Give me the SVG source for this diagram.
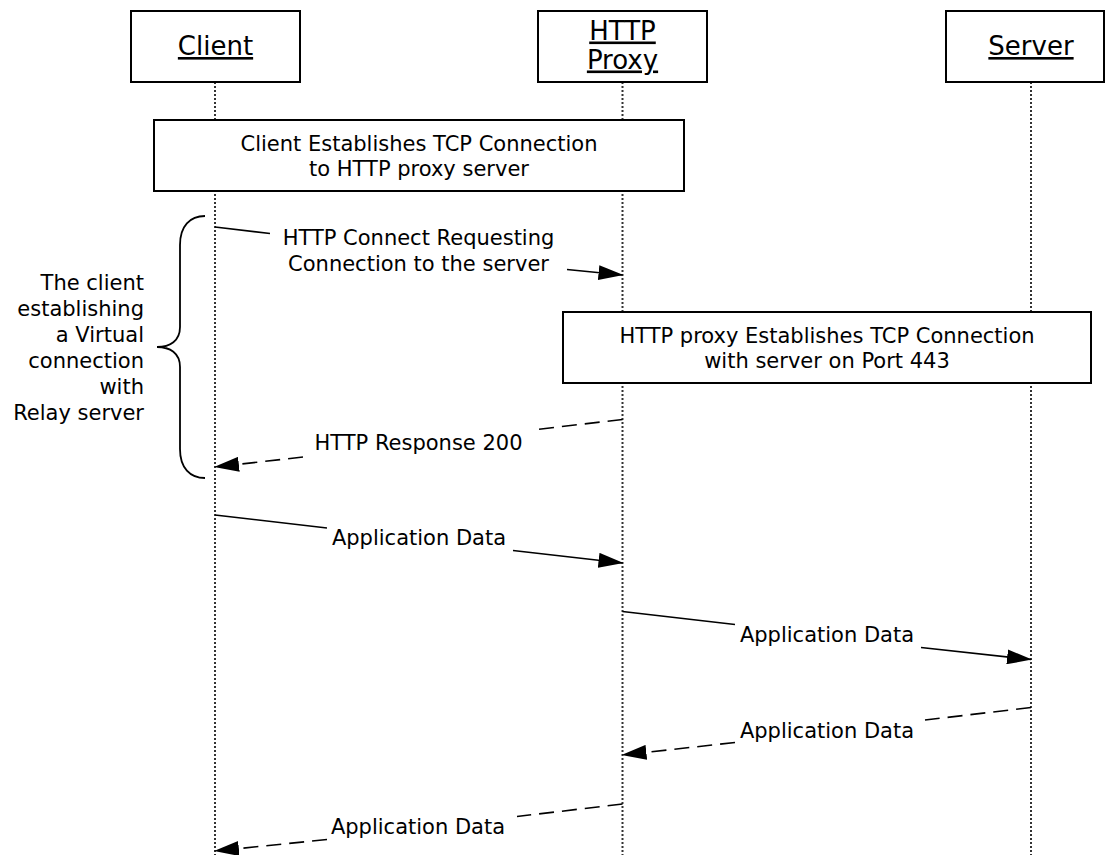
<svg xmlns="http://www.w3.org/2000/svg" width="1106" height="855" viewBox="0 0 1106 855">
  <style>
    .lifeline { stroke: #333; stroke-width: 2; stroke-dasharray: 2 2; fill: none; }
    .box { fill: #fff; stroke: #000; stroke-width: 2; }
    .head { font-family: 'DejaVu Sans', Verdana, sans-serif; font-size: 26px; fill: #000; text-anchor: middle; text-decoration: underline; }
    .txt { font-family: 'DejaVu Sans', Verdana, sans-serif; font-size: 21px; fill: #000; text-anchor: middle; }
    .txtr { font-family: 'DejaVu Sans', Verdana, sans-serif; font-size: 21px; fill: #000; text-anchor: end; }
    .msg { stroke: #000; stroke-width: 1.6; fill: none; marker-end: url(#arrow); }
    .dash { stroke-dasharray: 15 8; }
    .brace { stroke: #000; stroke-width: 1.8; fill: none; }
  </style>
  <defs>
    <marker id="arrow" markerUnits="userSpaceOnUse" markerWidth="25" markerHeight="15" viewBox="0 0 25 15" refX="24" refY="7.5" orient="auto">
      <path d="M0,0 L25,7.5 L0,15 z" fill="#000"/>
    </marker>
  </defs>
  <rect width="1106" height="855" fill="#fff"/>

  <g id="lifelines">
    <line class="lifeline" x1="215" y1="82" x2="215" y2="855"/>
    <line class="lifeline" x1="622.5" y1="82" x2="622.5" y2="855"/>
    <line class="lifeline" x1="1031" y1="82" x2="1031" y2="855"/>
  </g>

  <g id="client">
    <rect class="box" x="131" y="11" width="169" height="71"/>
    <text class="head" x="215.5" y="55">Client</text>
  </g>
  <g id="proxy">
    <rect class="box" x="538" y="11" width="169" height="71"/>
    <text class="head" x="622.5" y="39.5">HTTP</text>
    <text class="head" x="622.5" y="68.5">Proxy</text>
  </g>
  <g id="server">
    <rect class="box" x="946" y="11" width="158" height="71"/>
    <text class="head" x="1031" y="55">Server</text>
  </g>

  <g id="note-client-tcp">
    <rect class="box" x="154" y="120" width="530" height="71"/>
    <text class="txt" x="419" y="151">Client Establishes TCP Connection</text>
    <text class="txt" x="419" y="176">to HTTP proxy server</text>
  </g>

  <g id="note-proxy-tcp">
    <rect class="box" x="563" y="312" width="528" height="71"/>
    <text class="txt" x="827" y="343">HTTP proxy Establishes TCP Connection</text>
    <text class="txt" x="827" y="368">with server on Port 443</text>
  </g>

  <g id="virtual-connection">
    <path class="brace" d="M205,216 C190,216 180,226 180,245 L180,327 C180,341 170,347 157,347 C170,347 180,353 180,367 L180,449 C180,468 190,478 205,478"/>
    <text class="txtr" x="144" y="290">The client</text>
    <text class="txtr" x="144" y="316">establishing</text>
    <text class="txtr" x="144" y="342">a Virtual</text>
    <text class="txtr" x="144" y="368">connection</text>
    <text class="txtr" x="144" y="394">with</text>
    <text class="txtr" x="144" y="420">Relay server</text>
  </g>

  <g id="connectors">
    <path class="msg" d="M215,227 L270,233.5 M567,269.5 L622.5,275"/>
    <text class="txt" x="418.5" y="245">HTTP Connect Requesting</text>
    <text class="txt" x="418.5" y="271">Connection to the server</text>

    <path class="msg dash" d="M622.5,419.5 L532,430 M303,457 L215,467"/>
    <text class="txt" x="418.5" y="450">HTTP Response 200</text>

    <path class="msg" d="M215,515 L327,528 M513,550.5 L622.5,563"/>
    <text class="txt" x="419" y="545">Application Data</text>

    <path class="msg" d="M622.5,611.5 L735,624.5 M921,647.5 L1031,659.5"/>
    <text class="txt" x="827" y="642">Application Data</text>

    <path class="msg dash" d="M1031,707.5 L925,720 M735,742.5 L622.5,755"/>
    <text class="txt" x="827" y="738">Application Data</text>

    <path class="msg dash" d="M622.5,804 L517,816.5 M327,839.5 L215,851"/>
    <text class="txt" x="418" y="834">Application Data</text>
  </g>
</svg>
